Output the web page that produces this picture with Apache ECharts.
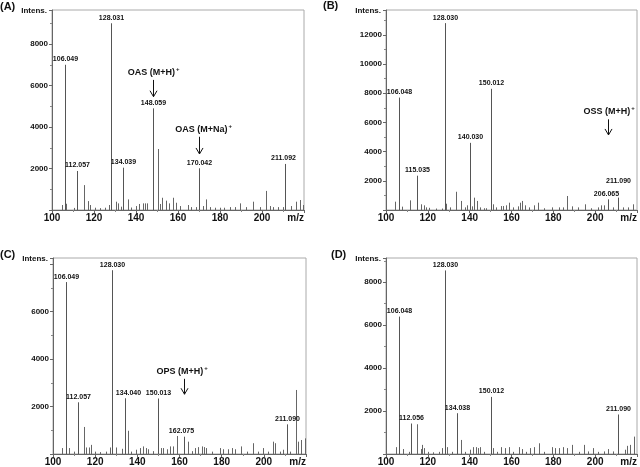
<!DOCTYPE html>
<html>
<head>
<meta charset="utf-8">
<script src="https://cdn.jsdelivr.net/npm/echarts@6/dist/echarts.min.js"></script>
<style>
  html, body { margin: 0; padding: 0; background: #fff; }
  #chart { width: 640px; height: 467px; }
</style>
</head>
<body>
<div id="chart"></div>
<script>
// peaks: [m/z, intensity]
const peaksA = [[104.8,240],[106.8,300],[110.5,100],[115.0,1200],[117.1,430],[118.3,240],[120.6,110],[122.9,90],[125.3,110],[127.0,240],[130.3,400],[131.4,320],[132.7,160],[136.2,510],[137.8,120],[140.2,190],[141.5,290],[143.4,320],[144.2,320],[145.3,320],[150.3,2940],[151.2,290],[152.6,590],[154.5,450],[155.7,320],[157.6,590],[159.2,350],[160.8,190],[164.8,240],[166.4,140],[168.4,140],[171.8,190],[173.5,510],[175.0,140],[177.4,110],[179.8,110],[182.0,110],[184.6,140],[187.0,140],[189.4,320],[192.6,140],[195.7,400],[198.9,140],[201.8,920],[203.6,190],[205.0,140],[207.4,140],[209.8,140],[213.7,190],[216.4,400],[218.0,480],[219.6,240]];
const labeledA = [[106.049,7000],[112.057,1880],[128.031,9000],[134.039,2040],[148.059,4900],[170.042,2010],[211.092,2220]];

const peaksB = [[104.4,570],[107.6,230],[111.5,660],[116.7,390],[118.0,320],[119.0,180],[120.6,150],[123.8,100],[127.0,100],[128.9,430],[130.5,180],[133.6,1250],[136.0,620],[137.6,180],[138.7,320],[141.0,250],[142.3,845],[143.6,620],[145.0,180],[146.7,120],[147.8,120],[151.3,390],[152.4,180],[154.8,270],[156.0,270],[157.6,320],[158.6,500],[160.5,180],[162.9,250],[164.1,500],[164.9,620],[166.3,320],[168.3,180],[170.7,320],[172.8,500],[175.5,120],[179.5,180],[182.6,180],[184.5,180],[186.5,960],[188.9,250],[192.0,180],[195.3,390],[198.0,120],[201.5,180],[203.0,320],[204.2,320],[208.7,180],[213.5,180],[215.5,180],[218.0,390]];
const labeledB = [[106.048,7700],[115.035,2350],[128.030,12800],[140.030,4600],[150.012,8300],[206.065,730],[211.090,850]];

const peaksC = [[104.4,250],[107.6,250],[110.0,100],[114.7,1140],[115.8,275],[116.9,275],[117.9,385],[119.8,100],[122.2,80],[125.3,100],[126.9,275],[129.8,275],[132.5,220],[135.6,980],[137.2,100],[139.6,180],[141.1,250],[142.7,320],[144.0,250],[145.1,200],[147.4,120],[151.0,250],[152.3,250],[153.9,200],[155.4,320],[157.0,320],[159.0,760],[164.1,520],[165.7,120],[167.3,250],[168.9,290],[170.8,320],[171.7,290],[172.8,250],[175.2,100],[179.2,250],[180.4,200],[183.1,200],[184.7,250],[186.3,200],[189.1,320],[191.8,100],[195.0,455],[197.4,100],[199.4,250],[201.8,100],[204.2,520],[205.3,455],[207.7,100],[209.3,180],[212.5,100],[215.3,2700],[216.4,520],[217.7,590],[219.5,660]];
const labeledC = [[106.049,7250],[112.057,2180],[128.030,7750],[134.040,2350],[150.013,2340],[162.075,730],[211.090,1250]];

const peaksD = [[104.9,320],[107.9,230],[110.8,100],[115.0,1385],[116.8,230],[117.3,425],[118.3,275],[120.3,100],[122.7,80],[125.1,100],[126.6,275],[129.0,320],[131.4,100],[136.0,655],[137.6,100],[140.0,200],[141.5,320],[142.8,320],[143.9,275],[145.0,320],[147.0,100],[151.2,275],[153.0,100],[155.1,320],[157.0,275],[158.7,320],[160.9,100],[163.7,320],[164.8,230],[166.9,100],[168.8,275],[170.8,320],[173.1,500],[175.5,100],[179.2,320],[180.7,275],[182.6,275],[184.5,320],[186.5,275],[188.9,425],[192.1,100],[194.9,425],[196.8,120],[199.2,275],[201.5,100],[204.2,120],[206.2,230],[208.6,120],[214.2,200],[215.4,380],[216.6,425],[218.6,810]];
const labeledD = [[106.048,6400],[112.056,1420],[128.030,8550],[134.038,1900],[150.012,2660],[211.090,1840]];

// annotations: [arrow m/z, arrow top, arrow tip, text m/z, text intensity]
const annTextA = ['OAS (M+H)', 'OAS (M+Na)'];
const annA = [[148.2,6270,5460,148.4,6640],[170.2,3530,2700,172.2,3890]];
const annTextB = ['OSS (M+H)'];
const annB = [[206.3,6210,5140,206.7,6780]];
const annTextC = ['OPS (M+H)'];
const annC = [[162.0,3170,2520,161.2,3490]];

const panelNames = ['(A)', '(B)', '(C)', '(D)'];
const yMax = [9640, 13700, 8265, 9130];
const xMin = 100, xMax = 220;

const FONT = '"Liberation Sans", Arial, sans-serif';
const chart = echarts.init(document.getElementById('chart'));

const grids = [
  { left: 52, top: 10, width: 252, height: 200 },
  { left: 386, top: 10, width: 253, height: 200 },
  { left: 53, top: 258, width: 253, height: 200 },
  { left: 386, top: 258, width: 253, height: 200 },
];

// a few labels sit off their peak in the original
const labelShift = { '1:211.09': [0, 11], '1:206.065': [-2, 0], '2:134.04': [3, 0], '2:162.075': [-3, 0], '0:211.092': [-2, 0] };

function stick(api, color) {
  const x = api.value(0);
  const p0 = api.coord([x, 0]);
  const p1 = api.coord([x, api.value(1)]);
  const px = Math.round(p0[0]) + 0.5;
  return { p1: [px, p1[1]], el: { type: 'line', shape: { x1: px, y1: p0[1], x2: px, y2: p1[1] }, style: { stroke: color, lineWidth: 1 } } };
}

function peakSeries(i, data) {
  return {
    type: 'custom', xAxisIndex: i, yAxisIndex: i, data, clip: true,
    renderItem: (params, api) => stick(api, '#666').el,
  };
}

function labeledSeries(i, data) {
  return {
    type: 'custom', xAxisIndex: i, yAxisIndex: i, data, clip: false,
    renderItem: (params, api) => {
      const s = stick(api, '#555');
      const mz = api.value(0);
      const sh = labelShift[i + ':' + mz] || [0, 0];
      return {
        type: 'group',
        children: [s.el, {
          type: 'text',
          style: {
            text: mz.toFixed(3), x: s.p1[0] + sh[0], y: s.p1[1] - 2 - sh[1],
            align: 'center', verticalAlign: 'bottom',
            fontSize: 7, fontWeight: 'bold', fontFamily: FONT, fill: '#111',
          },
        }],
      };
    },
  };
}

function annSeries(i, data, texts) {
  return {
    type: 'custom', xAxisIndex: i, yAxisIndex: i, data, clip: false,
    renderItem: (params, api) => {
      const a = api.coord([api.value(0), api.value(1)]);
      const b = api.coord([api.value(0), api.value(2)]);
      const t = api.coord([api.value(3), api.value(4)]);
      const x = Math.round(a[0]) + 0.5;
      return {
        type: 'group',
        children: [
          { type: 'line', shape: { x1: x, y1: a[1], x2: x, y2: b[1] }, style: { stroke: '#111', lineWidth: 1 } },
          { type: 'polyline', shape: { points: [[x - 3.5, b[1] - 6], [x, b[1]], [x + 3.5, b[1] - 6]] }, style: { stroke: '#111', lineWidth: 1, fill: null } },
          {
            type: 'text',
            style: {
              text: '{t|' + texts[params.dataIndex] + '}{s|+}', x: t[0], y: t[1],
              align: 'center', verticalAlign: 'middle',
              rich: {
                t: { fontSize: 9, fontWeight: 'bold', fontFamily: FONT, fill: '#111' },
                s: { fontSize: 6, fontWeight: 'bold', fontFamily: FONT, fill: '#111', verticalAlign: 'top', padding: [0, 0, 5, 1] },
              },
            },
          },
        ],
      };
    },
  };
}

const xAxes = grids.map((g, i) => ({
  type: 'value', gridIndex: i, min: xMin, max: xMax, interval: 20,
  axisLine: { lineStyle: { color: '#666' } },
  axisTick: { length: 3, lineStyle: { color: '#666' } },
  minorTick: { show: true, splitNumber: 2, length: 2, lineStyle: { color: '#888' } },
  splitLine: { show: false },
  axisLabel: {
    margin: 3, fontSize: 10, fontWeight: 'bold', fontFamily: FONT, color: '#111',
    alignMaxLabel: 'right',
    formatter: (v) => (v === 220 ? 'm/z' : String(v)),
  },
}));

// the top tick is left unlabelled when it sits right under the frame
const yAxes = grids.map((g, i) => ({
  type: 'value', gridIndex: i, min: 0, max: yMax[i], interval: 2000,
  name: 'Intens.', nameLocation: 'end', nameGap: -1,
  nameTextStyle: { align: 'right', verticalAlign: 'middle', fontSize: 8, fontWeight: 'bold', fontFamily: FONT, color: '#111', padding: [0, 5, 0, 0] },
  axisLine: { show: true, lineStyle: { color: '#666' } },
  axisTick: { length: 3, lineStyle: { color: '#666' } },
  minorTick: { show: true, splitNumber: 2, length: 2, lineStyle: { color: '#888' } },
  splitLine: { show: false },
  axisLabel: {
    margin: 4, fontSize: 8, fontWeight: 'bold', fontFamily: FONT, color: '#111',
    formatter: (v) => (v > 0 && v % 2000 === 0 && yMax[i] - v > 500 ? String(v) : ''),
  },
}));

const titlePos = [[0, 1], [323, 0], [0, 249], [331, 249]];

chart.setOption({
  animation: false,
  backgroundColor: '#fff',
  title: panelNames.map((n, i) => ({
    text: n, left: titlePos[i][0], top: titlePos[i][1], padding: 0,
    textStyle: { fontSize: 11, fontWeight: 'bold', fontFamily: FONT, color: '#111' },
  })),
  grid: grids.map((g) => ({ ...g, show: true, borderColor: '#aaa', borderWidth: 1, backgroundColor: 'transparent' })),
  xAxis: xAxes,
  yAxis: yAxes,
  series: [
    peakSeries(0, peaksA), labeledSeries(0, labeledA), annSeries(0, annA, annTextA),
    peakSeries(1, peaksB), labeledSeries(1, labeledB), annSeries(1, annB, annTextB),
    peakSeries(2, peaksC), labeledSeries(2, labeledC), annSeries(2, annC, annTextC),
    peakSeries(3, peaksD), labeledSeries(3, labeledD),
  ],
});
</script>
</body>
</html>
